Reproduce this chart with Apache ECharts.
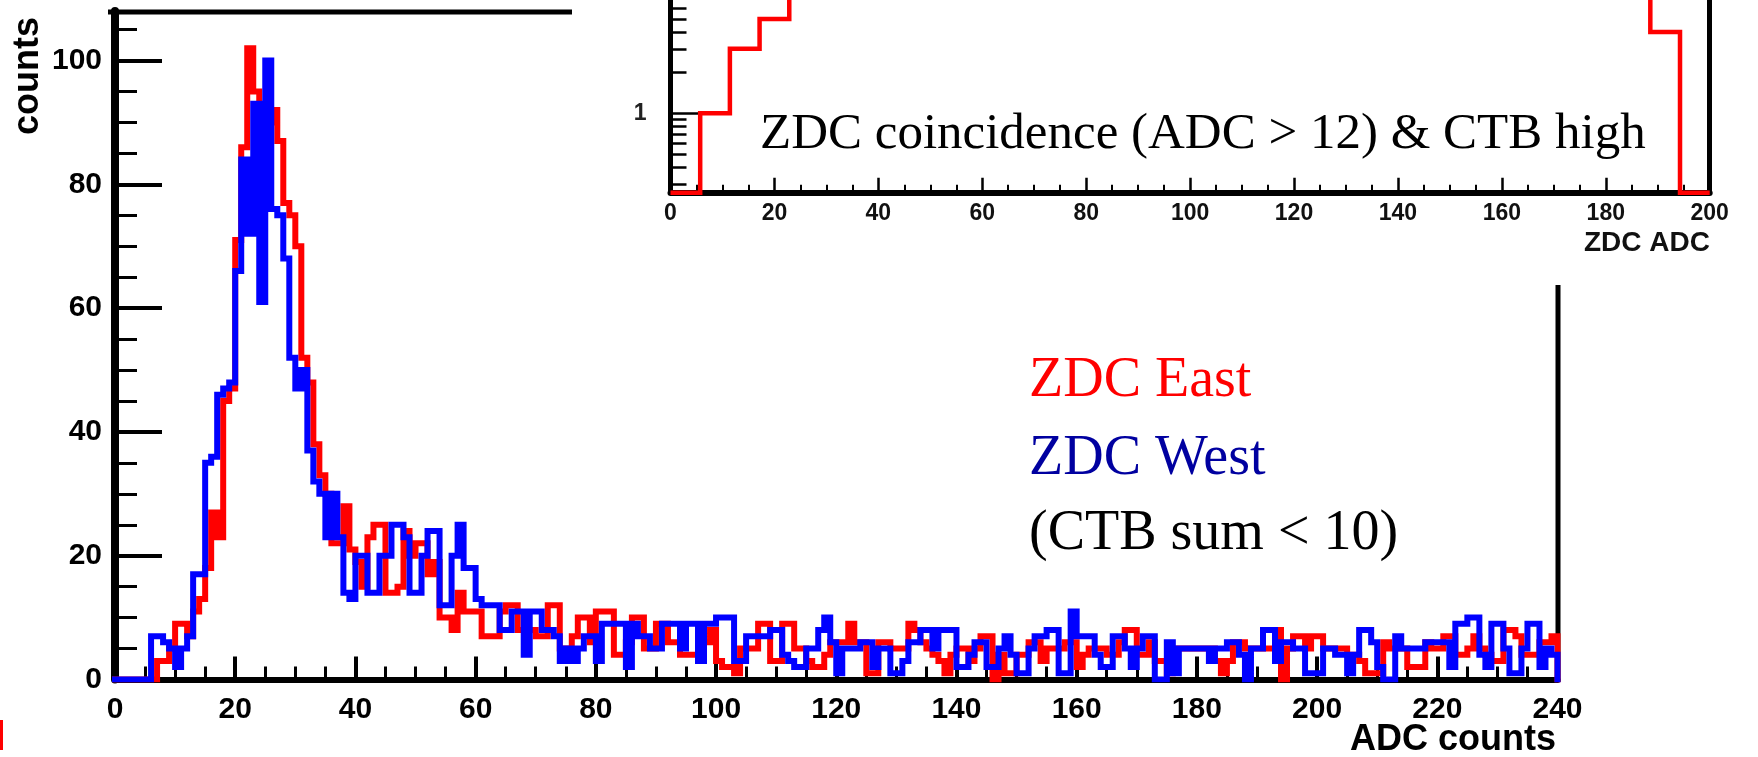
<!DOCTYPE html>
<html>
<head>
<meta charset="utf-8">
<script src="https://cdn.jsdelivr.net/npm/echarts@6/dist/echarts.min.js"></script>
<style>html,body{margin:0;padding:0;background:#fff}#c{width:1758px;height:757px}</style>
</head>
<body>
<div id="c"></div>
<script>
// ---------------- data ----------------
// main histogram: 240 bins of width 1 ADC count, range 0..240
const mainRange = [0, 240];
const mainBinWidth = 1;
const zdcEast = [
  0,0,0,0,0,0,0,3,3,5,
  9,9,7,11,13,18,27,23,45,47,
  71,86,102,95,92,90,92,87,77,75,
  70,52,48,38,33,30,22,22,28,21,
  19,15,23,25,25,14,14,15,24,20,
  22,22,17,19,10,10,8,14,11,11,
  11,7,7,7,11,12,12,8,8,8,
  7,7,12,12,5,5,7,10,10,6,
  11,11,11,4,4,6,10,10,5,5,
  9,9,6,6,4,4,4,6,6,8,
  3,2,2,1,5,5,5,9,9,3,
  3,9,9,5,5,3,2,2,4,6,
  6,6,9,6,6,1,1,6,6,5,
  5,5,9,8,6,5,4,3,1,4,
  5,5,3,5,7,7,0,4,1,1,
  4,4,6,6,3,5,5,5,6,6,
  2,4,5,5,5,4,4,6,8,8,
  4,4,6,3,3,1,5,5,5,5,
  5,5,5,3,1,3,6,6,5,5,
  5,5,5,8,0,5,7,7,5,7,
  7,5,5,5,5,4,4,3,1,1,
  1,6,5,5,5,2,2,2,6,5,
  5,7,7,4,4,5,7,5,4,3,
  3,8,8,7,4,4,4,6,6,7
];
const zdcWest = [
  0,0,0,0,0,0,7,7,6,5,
  2,5,7,17,17,35,36,46,47,48,
  66,84,72,93,61,100,76,75,68,52,
  47,50,37,32,30,23,30,23,14,13,
  20,20,14,14,20,20,25,25,23,14,
  14,20,24,24,12,12,20,25,18,18,
  13,12,12,12,8,8,11,11,4,11,
  11,8,8,7,3,5,3,5,7,7,
  3,9,9,9,9,2,9,7,7,5,
  5,9,9,9,5,9,9,3,9,9,
  10,10,10,3,3,7,7,7,7,8,
  8,4,3,2,2,5,5,8,10,6,
  1,5,5,5,6,6,2,5,5,1,
  1,3,6,6,8,8,5,8,8,8,
  2,2,4,6,6,2,2,5,7,4,
  1,1,5,7,7,8,8,1,1,11,
  7,7,7,4,2,2,7,7,5,2,
  5,7,7,0,0,6,1,5,5,5,
  5,5,3,5,5,6,6,4,0,5,
  5,8,8,3,6,6,5,5,1,1,
  1,5,5,4,4,1,4,8,8,6,
  2,0,0,7,5,5,5,5,6,6,
  6,6,2,9,9,10,10,4,2,9,
  9,5,1,1,5,9,9,2,5,4
];
const countMajorTicks = [0, 20, 40, 60, 80, 100];
const countMinorTicks = [5,10,15,25,30,35,45,50,55,65,70,75,85,90,95,105];

// inset histogram: 35 bins over 0..200 (ZDC ADC), log scale counts
const insetRange = [0, 200];
const insetCounts = [0,1,3,5,9,14,20,27,34,41,47,52,56,59,61,62,62,61,59,56,52,48,44,39,34,29,25,21,17,14,11,9,8,4,0];
const insetMajorTicks = [1];
const insetMinorTicks = [0.3,0.4,0.5,0.6,0.7,0.8,0.9,2,3,4,5,6];

// ---------------- chart ----------------
const SANS = '"Liberation Sans", Arial, Helvetica, sans-serif';
const SERIF = '"Liberation Serif", "Times New Roman", serif';
const INSET_MIN = 0.258, INSET_MAX = 6.9;

function histPoints(values, x0, w, floor) {
  const pts = values.map((v, i) => [x0 + i * w, v > 0 ? v : floor]);
  pts.push([x0 + values.length * w, floor]);
  return pts;
}
const insetW = (insetRange[1] - insetRange[0]) / insetCounts.length;

const chart = echarts.init(document.getElementById('c'), null, {renderer: 'canvas'});
const black = '#000';
chart.setOption({
  animation: false,
  backgroundColor: '#fff',
  grid: [
    {left: 115, right: 200.5, top: 11, bottom: 77.5},
    {left: 670.5, right: 48.3, top: 0, bottom: 564.3}
  ],
  xAxis: [
    {
      gridIndex: 0, type: 'value', min: mainRange[0], max: mainRange[1], interval: 20,
      axisLine: {show: true, lineStyle: {color: black, width: 6}},
      axisTick: {show: true, inside: true, length: 23, lineStyle: {color: black, width: 4}},
      minorTick: {show: true, splitNumber: 4, length: 13, lineStyle: {color: black, width: 3}},
      axisLabel: {color: black, fontSize: 30, fontWeight: 'bold', fontFamily: SANS, margin: 15},
      splitLine: {show: false}, minorSplitLine: {show: false}
    },
    {
      gridIndex: 1, type: 'value', min: insetRange[0], max: insetRange[1], interval: 20,
      axisLine: {show: true, lineStyle: {color: black, width: 6}},
      axisTick: {show: true, inside: true, length: 15, lineStyle: {color: black, width: 2.5}},
      minorTick: {show: true, splitNumber: 4, length: 8, lineStyle: {color: black, width: 2}},
      axisLabel: {color: '#111', fontSize: 23, fontWeight: 'bold', fontFamily: SANS, margin: 9},
      splitLine: {show: false}, minorSplitLine: {show: false}
    }
  ],
  yAxis: [
    {
      gridIndex: 0, type: 'value', min: 0, max: 108, position: 'left', offset: 3,
      axisLine: {show: true, lineStyle: {color: black, width: 8}},
      axisTick: {show: true, inside: true, length: 47, lineStyle: {color: black, width: 4}, customValues: countMajorTicks},
      axisLabel: {color: black, fontSize: 30, fontWeight: 'bold', fontFamily: SANS, margin: 10, customValues: countMajorTicks},
      splitLine: {show: false}
    },
    {
      gridIndex: 0, type: 'value', min: 0, max: 108, position: 'left', offset: 3,
      axisLine: {show: false},
      axisTick: {show: true, inside: true, length: 25, lineStyle: {color: black, width: 3}, customValues: countMinorTicks},
      axisLabel: {show: false},
      splitLine: {show: false}
    },
    {
      gridIndex: 1, type: 'log', logBase: 10, min: INSET_MIN, max: INSET_MAX, position: 'left',
      axisLine: {show: true, lineStyle: {color: black, width: 5}},
      axisTick: {show: true, inside: true, length: 33, lineStyle: {color: black, width: 2.5}, customValues: insetMajorTicks},
      axisLabel: {color: '#222', fontSize: 23, fontWeight: 'bold', fontFamily: SANS, margin: 24, customValues: insetMajorTicks},
      splitLine: {show: false}
    },
    {
      gridIndex: 1, type: 'log', logBase: 10, min: INSET_MIN, max: INSET_MAX, position: 'left',
      axisLine: {show: false},
      axisTick: {show: true, inside: true, length: 16, lineStyle: {color: black, width: 2.5}, customValues: insetMinorTicks},
      axisLabel: {show: false},
      splitLine: {show: false}
    },
    {
      gridIndex: 1, type: 'log', logBase: 10, min: INSET_MIN, max: INSET_MAX, position: 'right',
      axisLine: {show: true, lineStyle: {color: black, width: 5}},
      axisTick: {show: false}, axisLabel: {show: false}, splitLine: {show: false}
    }
  ],
  series: [
    {
      name: 'ZDC East', type: 'line', xAxisIndex: 0, yAxisIndex: 0, step: 'end', symbol: 'none', silent: true, z: 3,
      data: histPoints(zdcEast, mainRange[0], mainBinWidth, 0),
      lineStyle: {color: '#ff0000', width: 6, join: 'miter', cap: 'square'}
    },
    {
      name: 'ZDC West', type: 'line', xAxisIndex: 0, yAxisIndex: 0, step: 'end', symbol: 'none', silent: true, z: 4,
      data: histPoints(zdcWest, mainRange[0], mainBinWidth, 0),
      lineStyle: {color: '#0000ff', width: 6, join: 'miter', cap: 'square'}
    },
    {
      name: 'ZDC coincidence', type: 'line', xAxisIndex: 1, yAxisIndex: 2, step: 'end', symbol: 'none', silent: true, z: 3,
      clip: true,
      data: histPoints(insetCounts, insetRange[0], insetW, INSET_MIN),
      lineStyle: {color: '#ff0000', width: 4.5, join: 'miter'}
    }
  ],
  graphic: [
    {type: 'line', shape: {x1: 108, y1: 12, x2: 572, y2: 12}, style: {stroke: black, lineWidth: 5}},
    {type: 'line', shape: {x1: 1558, y1: 285, x2: 1558, y2: 682}, style: {stroke: black, lineWidth: 5}},
    {type: 'rect', shape: {x: 0, y: 720, width: 3, height: 30}, style: {fill: '#ff0000'}},
    {type: 'text', x: 28, y: 76, rotation: Math.PI / 2,
      style: {text: 'counts', font: 'bold 36px ' + SANS, fill: black, align: 'center', verticalAlign: 'middle'}},
    {type: 'text', x: 1556, y: 740,
      style: {text: 'ADC counts', font: 'bold 36px ' + SANS, fill: black, align: 'right', verticalAlign: 'middle'}},
    {type: 'text', x: 1710, y: 243,
      style: {text: 'ZDC ADC', font: 'bold 28px ' + SANS, fill: '#111', align: 'right', verticalAlign: 'middle'}},
    {type: 'text', x: 760, y: 135,
      style: {text: 'ZDC coincidence (ADC > 12) & CTB high', font: '51px ' + SERIF, fill: black, align: 'left', verticalAlign: 'middle'}},
    {type: 'text', x: 1029, y: 381,
      style: {text: 'ZDC East', font: '56px ' + SERIF, fill: '#ff0000', align: 'left', verticalAlign: 'middle'}},
    {type: 'text', x: 1029, y: 459,
      style: {text: 'ZDC West', font: '56px ' + SERIF, fill: '#0000a0', align: 'left', verticalAlign: 'middle'}},
    {type: 'text', x: 1029, y: 534,
      style: {text: '(CTB sum < 10)', font: '56px ' + SERIF, fill: black, align: 'left', verticalAlign: 'middle'}}
  ]
});
</script>
</body>
</html>
